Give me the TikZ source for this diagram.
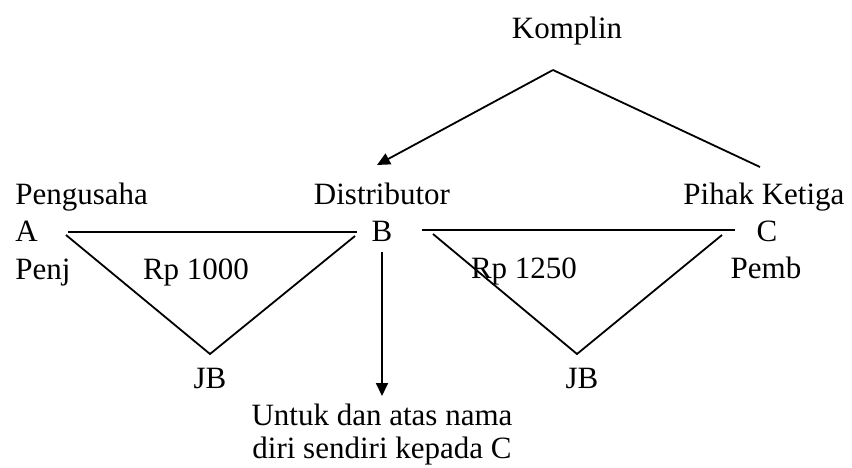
\documentclass[tikz,border=0pt]{standalone}
\usepackage{fontspec}
\setmainfont{Liberation Serif}
\usetikzlibrary{arrows.meta, positioning, calc}

\begin{document}
\begin{tikzpicture}[x=0.5pt, y=-0.5pt,
    lbl/.style={inner sep=0pt, anchor=base, font=\fontsize{15.5}{16.5}\selectfont},
    line/.style={line width=0.9pt},
    arr/.style={line width=0.9pt, -{Triangle[length=6.5pt, width=6pt]}}]
    \useasboundingbox (0,0) rectangle (852,467);

    \node[lbl] (k) at (567,38) {Komplin};
    \node[lbl, anchor=base west] (pa) at (15,204) {Pengusaha};
    \node[lbl] (db) at (382,204) {Distributor};
    \node[lbl, anchor=base west] (pc) at (683,204) {Pihak Ketiga};
    \node[lbl, anchor=base west] (a) at (15,241) {A};
    \node[lbl] (b) at (382,241) {B};
    \node[lbl] (c) at (767,241) {C};
    \node[lbl, anchor=base west] (penj) at (15,279) {Penj};
    \node[lbl] (rp1) at (196,279) {Rp 1000};
    \node[lbl] (rp2) at (524,278) {Rp 1250};
    \node[lbl] (pemb) at (766,278) {Pemb};
    \node[lbl] (jb1) at (210,388) {JB};
    \node[lbl] (jb2) at (582,388) {JB};
    \node[lbl, align=center] (u) at (382,458) {Untuk dan atas nama\\diri sendiri kepada C};

    \coordinate (top) at (553,70);
    \coordinate (tb) at (377,165);
    \coordinate (tc) at (760,167);
    \coordinate (ab1) at (68,232);
    \coordinate (ab2) at (357,232);
    \coordinate (l1) at (66,235);
    \coordinate (l2) at (210,354);
    \coordinate (l3) at (355,236);
    \coordinate (bc1) at (422,230);
    \coordinate (bc2) at (735,230);
    \coordinate (r1) at (433,234);
    \coordinate (r2) at (577,354);
    \coordinate (r3) at (722,235);
    \coordinate (bd1) at (382,252);
    \coordinate (bd2) at (382,396);

    \draw[arr] (top) -- (tb);
    \draw[line] (top) -- (tc);
    \draw[line] (ab1) -- (ab2);
    \draw[line] (l1) -- (l2) -- (l3);
    \draw[line] (bc1) -- (bc2);
    \draw[line] (r1) -- (r2) -- (r3);
    \draw[arr] (bd1) -- (bd2);
\end{tikzpicture}
\end{document}
